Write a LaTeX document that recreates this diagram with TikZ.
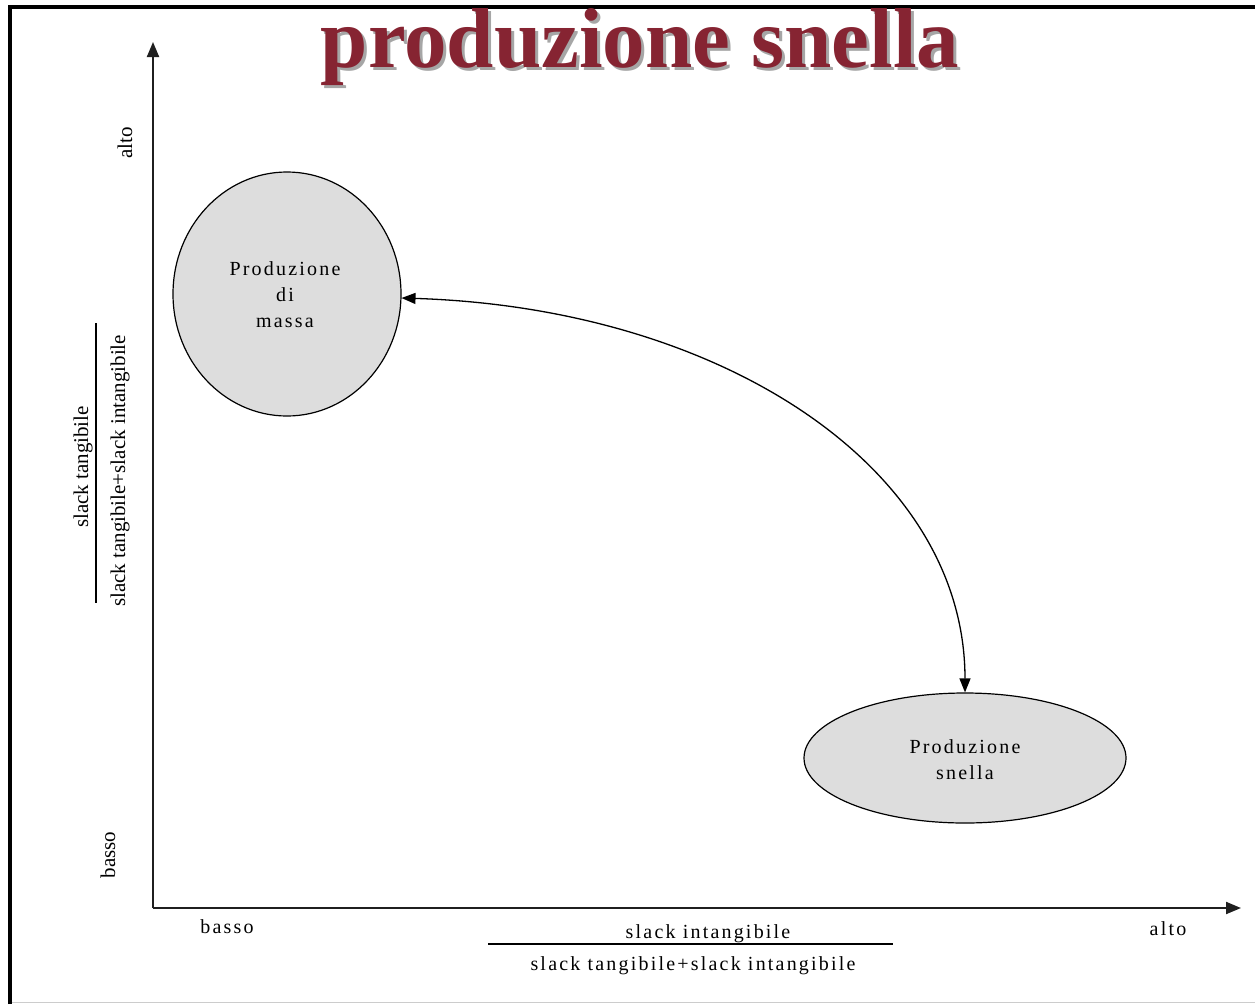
\documentclass[tikz,border=0pt]{standalone}
\usepackage{fontspec}
\setmainfont{Liberation Serif}
\newfontfamily\spacedfont{Liberation Serif}[LetterSpace=11]
\usetikzlibrary{arrows.meta,shapes.geometric}
\definecolor{titlered}{HTML}{862432}
\definecolor{ellfill}{HTML}{DDDDDD}
\newcommand{\shadowtitle}[1]{\makebox[0pt][l]{\hspace{3pt}\raisebox{-3pt}{\textcolor{black!35}{#1}}}\textcolor{titlered}{#1}}
\begin{document}
\begin{tikzpicture}[x=1pt,y=-1pt,
  axis/.style={line width=2pt,draw=black!88,-{Triangle[length=15pt,width=12pt]}},
  blob/.style={ellipse,draw=black,line width=1.2pt,fill=ellfill,inner sep=0pt},
  spacedlbl/.style={font=\spacedfont\fontsize{20}{26}\selectfont,align=center,inner sep=0pt},
  vlbl/.style={font=\fontsize{21}{25}\selectfont,rotate=90,inner sep=0pt},
  fracline/.style={line width=1.3pt,draw=black},
  link/.style={line width=1.3pt,{Triangle[length=14pt,width=11pt]}-{Triangle[length=14pt,width=11pt]}}]
\useasboundingbox (0,0) rectangle (1255,1004);
\fill[white] (0,0) rectangle (1255,1004);
% frame
\coordinate (fb) at (10,1004);
\coordinate (ftl) at (10,7);
\coordinate (ftr) at (1255,7);
\coordinate (bl) at (10,1002);
\coordinate (br) at (1255,1002);
\draw[black!20,line width=1pt] (bl) -- (br);
\draw[black,line width=4.5pt] (fb) -- (ftl) -- (ftr);
% title
\node[font=\bfseries\fontsize{85}{90}\selectfont,anchor=base,inner sep=0pt] (title) at (640,67) {\shadowtitle{produzione snella}};
% axes
\coordinate (o) at (153,908);
\coordinate (ytop) at (153,42);
\coordinate (xend) at (1241,908);
\draw[axis] (o) -- (ytop);
\draw[axis] (o) -- (xend);
% y labels
\node[vlbl] (yalto) at (125,143) {alto};
\node[vlbl] (ybasso) at (108,855) {basso};
\node[vlbl] (ynum) at (83,467) {slack tangibile};
\node[vlbl] (yden) at (120,471) {slack tangibile+slack intangibile};
\coordinate (yl1) at (96,323);
\coordinate (yl2) at (96,603);
\draw[fracline] (yl1) -- (yl2);
% x labels
\node[spacedlbl] (xbasso) at (227,927) {basso};
\node[spacedlbl] (xalto) at (1168,929) {alto};
\node[spacedlbl] (xnum) at (708,934) {slack intangibile};
\node[spacedlbl] (xden) at (693,966) {slack tangibile+slack intangibile};
\coordinate (xl1) at (488,944);
\coordinate (xl2) at (893,944);
\draw[fracline] (xl1) -- (xl2);
% ellipses
\node[blob,minimum width=228pt,minimum height=244pt] (massa) at (287,294) {};
\node[spacedlbl] (massatxt) at (285,295) {Produzione\\di\\massa};
\node[blob,minimum width=322pt,minimum height=130pt] (snella) at (965,758) {};
\node[spacedlbl] (snellatxt) at (965,760) {Produzione\\snella};
% connector
\draw[link] (massa.-2) .. controls +(320,10) and +(0,-225) .. (snella.north);
\end{tikzpicture}
\end{document}
